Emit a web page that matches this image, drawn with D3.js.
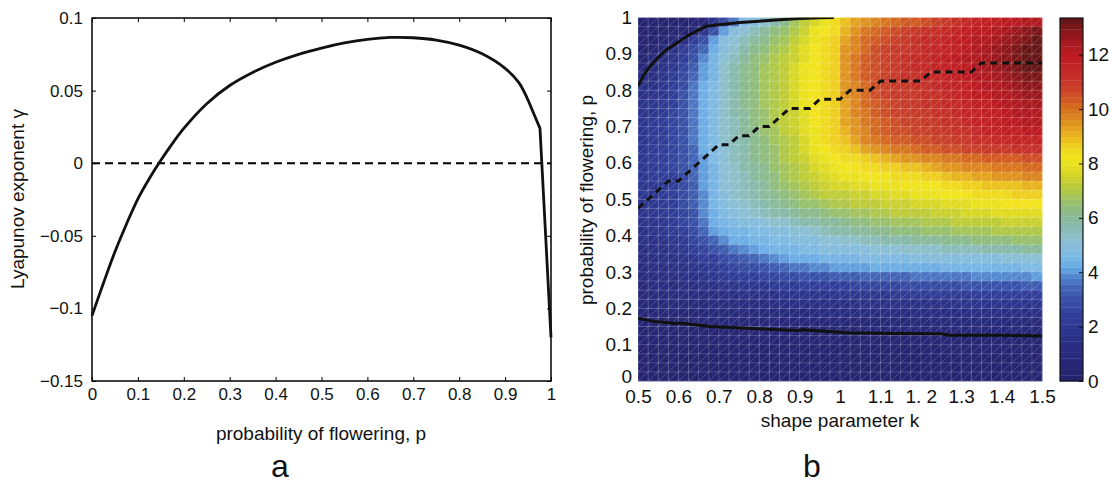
<!DOCTYPE html>
<html><head><meta charset="utf-8">
<script src="https://cdn.jsdelivr.net/npm/d3@7"></script>
<style>
body{margin:0;background:#fff}
svg{display:block}
text{font-family:"Liberation Sans",Arial,Helvetica,sans-serif;fill:#111}
</style></head>
<body><svg id="c" width="1110" height="483"></svg>
<script>
// ---------- Panel a data ----------
const pA = [0,0.025,0.05,0.075,0.1,0.125,0.15,0.175,0.2,0.25,0.3,0.35,0.4,0.45,0.5,0.55,0.6,0.65,0.7,0.75,0.8,0.85,0.9,0.93,0.952,0.976,1.0];
const gammaA = [-0.105,-0.0825,-0.061,-0.042,-0.0245,-0.0105,0.002,0.0135,0.024,0.041,0.0535,0.0625,0.0695,0.075,0.0793,0.0828,0.0853,0.0866,0.0864,0.0848,0.0813,0.0753,0.0653,0.0555,0.042,0.024,-0.12];
const xTicksA = [0,0.1,0.2,0.3,0.4,0.5,0.6,0.7,0.8,0.9,1];
const xTickLabelsA = ["0","0.1","0.2","0.3","0.4","0.5","0.6","0.7","0.8","0.9","1"];
const yTicksA = [-0.15,-0.1,-0.05,0,0.05,0.1];
const yTickLabelsA = ["\u22120.15","\u22120.1","\u22120.05","0","0.05","0.1"];

// ---------- Panel b data ----------
const kEdges = [0.5,0.525,0.55,0.575,0.6,0.625,0.65,0.675,0.7,0.725,0.75,0.775,0.8,0.825,0.85,0.875,0.9,0.925,0.95,0.975,1.0,1.025,1.05,1.075,1.1,1.125,1.15,1.175,1.2,1.225,1.25,1.275,1.3,1.325,1.35,1.375,1.4,1.425,1.45,1.475];
const pEdges = [0.975,0.95,0.925,0.9,0.875,0.85,0.825,0.8,0.775,0.75,0.725,0.7,0.675,0.65,0.625,0.6,0.575,0.55,0.525,0.5,0.475,0.45,0.425,0.4,0.375,0.35,0.325,0.3,0.275,0.25,0.225,0.2,0.175,0.15,0.125,0.1,0.075,0.05,0.025,0];
const heatRows = [
[0.4,0.4,0.4,0.4,0.4,0.5,0.6,1.6,2.8,3.7,4.6,5.0,5.4,5.8,6.2,6.7,7.2,7.7,8.1,8.4,8.8,9.2,9.5,9.8,10.0,10.2,10.3,10.4,10.6,10.8,10.9,11.1,11.3,11.5,11.7,11.8,11.9,12.0,12.1,12.2],
[0.4,0.4,0.4,0.5,0.6,0.9,1.8,3.0,4.1,4.8,5.2,5.6,6.0,6.3,6.6,7.0,7.5,8.0,8.3,8.5,9.1,9.5,9.9,10.2,10.4,10.6,10.7,10.9,11.1,11.2,11.4,11.5,11.7,11.9,12.0,12.2,12.5,12.7,12.9,13.0],
[0.4,0.4,0.5,0.8,1.5,2.3,3.1,4.0,4.8,5.2,5.6,5.9,6.2,6.5,6.8,7.2,7.7,8.1,8.4,8.6,9.3,9.7,10.1,10.4,10.6,10.8,10.9,11.1,11.3,11.4,11.6,11.7,11.9,12.1,12.2,12.4,12.7,12.9,13.1,13.2],
[0.4,0.5,0.9,1.5,2.2,2.8,3.5,4.3,5.0,5.4,5.8,6.1,6.4,6.7,7.0,7.4,7.8,8.2,8.5,8.7,9.4,9.8,10.2,10.5,10.7,10.9,11.0,11.2,11.4,11.5,11.6,11.8,12.0,12.2,12.4,12.6,12.9,13.1,13.2,13.3],
[0.5,0.9,1.4,1.8,2.5,3.1,3.9,4.4,5.2,5.6,6.0,6.3,6.6,6.9,7.2,7.5,7.9,8.2,8.5,8.7,9.5,9.9,10.3,10.6,10.8,11.0,11.1,11.3,11.4,11.5,11.7,11.9,12.1,12.3,12.4,12.6,12.9,13.1,13.3,13.3],
[0.8,1.2,1.6,2.0,2.7,3.3,4.0,4.5,5.3,5.7,6.1,6.4,6.7,7.0,7.3,7.6,8.0,8.2,8.5,8.7,9.5,9.9,10.3,10.6,10.8,11.0,11.1,11.3,11.4,11.5,11.7,11.8,12.0,12.2,12.4,12.6,12.8,13.0,13.2,13.3],
[1.1,1.4,1.8,2.2,2.8,3.4,4.1,4.5,5.3,5.7,6.1,6.4,6.7,7.0,7.3,7.6,8.0,8.2,8.5,8.7,9.5,9.9,10.3,10.6,10.8,11.0,11.1,11.2,11.3,11.4,11.6,11.7,11.9,12.1,12.2,12.4,12.6,12.8,13.0,13.1],
[1.3,1.6,1.9,2.3,2.9,3.6,4.2,4.6,5.3,5.7,6.1,6.4,6.7,7.0,7.3,7.6,8.0,8.2,8.5,8.7,9.4,9.8,10.2,10.5,10.7,10.9,11.0,11.1,11.2,11.3,11.5,11.6,11.8,12.0,12.1,12.2,12.4,12.6,12.8,12.9],
[1.5,1.7,2.0,2.4,3.0,3.7,4.2,4.6,5.3,5.7,6.1,6.4,6.7,7.0,7.3,7.6,8.0,8.2,8.5,8.7,9.4,9.8,10.2,10.5,10.7,10.9,11.0,11.0,11.1,11.2,11.4,11.5,11.7,11.9,12.0,12.1,12.2,12.4,12.6,12.7],
[1.7,1.9,2.1,2.5,3.1,3.7,4.2,4.6,5.3,5.7,6.1,6.4,6.7,7.0,7.3,7.6,8.0,8.2,8.5,8.7,9.3,9.7,10.1,10.4,10.6,10.8,10.9,11.0,11.1,11.2,11.3,11.4,11.6,11.7,11.8,11.9,12.1,12.2,12.4,12.5],
[1.8,2.0,2.2,2.6,3.1,3.7,4.2,4.6,5.3,5.7,6.0,6.3,6.6,6.9,7.2,7.5,7.9,8.2,8.5,8.7,9.3,9.6,10.0,10.3,10.5,10.7,10.8,10.9,11.0,11.1,11.2,11.3,11.5,11.6,11.7,11.8,12.0,12.1,12.2,12.3],
[1.9,2.1,2.3,2.6,3.1,3.7,4.2,4.6,5.3,5.6,5.9,6.3,6.6,6.9,7.2,7.5,7.9,8.2,8.5,8.7,9.2,9.5,9.9,10.2,10.4,10.6,10.7,10.8,10.9,11.0,11.1,11.2,11.3,11.5,11.6,11.7,11.9,12.0,12.1,12.1],
[2.0,2.1,2.3,2.6,3.1,3.6,4.2,4.6,5.3,5.6,5.9,6.2,6.5,6.8,7.1,7.4,7.8,8.1,8.4,8.6,9.1,9.4,9.8,10.1,10.3,10.5,10.6,10.7,10.8,10.9,11.0,11.1,11.2,11.4,11.5,11.6,11.7,11.8,11.9,11.9],
[2.0,2.1,2.3,2.6,3.0,3.6,4.2,4.6,5.3,5.6,5.8,6.2,6.4,6.7,7.0,7.3,7.7,8.1,8.4,8.6,8.9,9.2,9.6,9.9,10.1,10.3,10.4,10.5,10.6,10.7,10.8,10.9,11.0,11.1,11.2,11.3,11.4,11.5,11.6,11.6],
[2.0,2.1,2.3,2.6,3.0,3.5,4.2,4.6,5.2,5.5,5.8,6.1,6.4,6.6,6.9,7.2,7.6,8.0,8.3,8.5,8.7,8.9,9.2,9.5,9.7,9.9,10.0,10.1,10.3,10.4,10.5,10.6,10.7,10.8,10.9,11.0,11.0,11.1,11.1,11.1],
[2.0,2.1,2.3,2.6,3.0,3.5,4.1,4.6,5.2,5.5,5.7,6.1,6.3,6.6,6.9,7.1,7.4,7.8,8.1,8.3,8.4,8.5,8.6,8.8,9.0,9.2,9.4,9.5,9.7,9.8,9.9,10.0,10.1,10.2,10.3,10.3,10.4,10.4,10.5,10.5],
[2.0,2.1,2.3,2.6,3.0,3.4,4.1,4.5,5.1,5.4,5.7,6.0,6.2,6.5,6.8,7.0,7.3,7.6,7.9,8.1,8.2,8.3,8.4,8.5,8.6,8.7,8.8,8.9,9.1,9.2,9.4,9.5,9.6,9.7,9.8,9.9,10.0,10.0,10.1,10.1],
[2.0,2.1,2.3,2.5,2.9,3.4,4.0,4.5,5.1,5.4,5.6,5.9,6.1,6.4,6.7,6.9,7.2,7.5,7.7,7.9,8.0,8.1,8.2,8.3,8.3,8.4,8.4,8.5,8.6,8.7,8.8,9.0,9.1,9.2,9.3,9.4,9.5,9.5,9.6,9.6],
[1.9,2.0,2.2,2.5,2.9,3.3,4.0,4.5,5.1,5.4,5.6,5.8,6.0,6.3,6.5,6.7,7.0,7.2,7.4,7.6,7.7,7.8,7.9,8.0,8.1,8.1,8.2,8.2,8.3,8.3,8.4,8.5,8.6,8.7,8.8,8.8,8.9,8.9,9.0,9.0],
[1.9,2.0,2.2,2.4,2.8,3.3,3.9,4.5,5.0,5.3,5.5,5.7,5.9,6.1,6.3,6.5,6.7,6.9,7.1,7.2,7.3,7.4,7.5,7.6,7.7,7.8,7.9,8.0,8.0,8.1,8.2,8.3,8.3,8.4,8.4,8.5,8.5,8.6,8.6,8.6],
[1.8,1.9,2.1,2.4,2.8,3.2,3.9,4.4,4.9,5.2,5.4,5.6,5.8,6.0,6.2,6.3,6.5,6.6,6.8,6.9,7.0,7.1,7.2,7.3,7.4,7.4,7.5,7.6,7.6,7.7,7.8,7.9,7.9,8.0,8.1,8.1,8.2,8.2,8.3,8.3],
[1.8,1.9,2.1,2.3,2.7,3.1,3.8,4.3,4.7,5.0,5.1,5.3,5.5,5.7,5.8,6.0,6.1,6.2,6.4,6.5,6.6,6.7,6.8,6.9,7.0,7.1,7.1,7.2,7.3,7.4,7.4,7.5,7.6,7.6,7.7,7.8,7.8,7.9,7.9,7.9],
[1.7,1.8,2.0,2.2,2.6,3.0,3.7,4.2,4.5,4.7,4.8,5.0,5.1,5.3,5.4,5.5,5.7,5.8,5.9,6.0,6.2,6.3,6.4,6.5,6.6,6.7,6.8,6.8,6.9,7.0,7.0,7.1,7.2,7.2,7.3,7.3,7.4,7.4,7.5,7.5],
[1.6,1.7,1.9,2.1,2.5,2.9,3.5,4.1,4.3,4.4,4.5,4.6,4.7,4.8,4.9,5.1,5.2,5.4,5.5,5.7,5.8,5.9,6.0,6.1,6.2,6.3,6.3,6.4,6.5,6.5,6.6,6.7,6.7,6.8,6.8,6.9,6.9,7.0,7.0,7.0],
[1.5,1.6,1.7,1.9,2.2,2.6,3.1,3.5,3.9,4.2,4.3,4.4,4.5,4.6,4.7,4.8,4.9,5.0,5.1,5.2,5.3,5.4,5.5,5.6,5.7,5.8,5.8,5.9,6.0,6.0,6.1,6.2,6.2,6.3,6.3,6.4,6.4,6.5,6.5,6.5],
[1.4,1.5,1.6,1.7,2.0,2.3,2.7,3.0,3.3,3.6,3.9,4.1,4.3,4.4,4.5,4.5,4.6,4.7,4.8,4.8,4.9,5.0,5.0,5.1,5.2,5.2,5.3,5.3,5.4,5.4,5.5,5.5,5.6,5.6,5.7,5.7,5.8,5.8,5.9,5.9],
[1.3,1.4,1.5,1.6,1.8,2.0,2.3,2.5,2.8,3.0,3.2,3.4,3.6,3.8,4.0,4.2,4.3,4.3,4.4,4.4,4.5,4.5,4.6,4.6,4.7,4.7,4.7,4.8,4.8,4.8,4.9,4.9,4.9,5.0,5.0,5.0,5.1,5.1,5.1,5.2],
[1.2,1.3,1.4,1.5,1.6,1.8,2.0,2.2,2.4,2.6,2.8,2.9,3.1,3.3,3.4,3.6,3.7,3.8,3.9,4.0,4.0,4.1,4.1,4.2,4.2,4.2,4.3,4.3,4.3,4.3,4.4,4.4,4.4,4.4,4.5,4.5,4.5,4.5,4.6,4.6],
[1.1,1.2,1.3,1.4,1.5,1.6,1.8,1.9,2.1,2.2,2.3,2.5,2.6,2.7,2.8,2.9,3.0,3.1,3.1,3.2,3.3,3.3,3.4,3.4,3.5,3.5,3.5,3.6,3.6,3.6,3.7,3.7,3.7,3.8,3.8,3.8,3.9,3.9,3.9,4.0],
[1.0,1.1,1.2,1.2,1.3,1.4,1.5,1.6,1.7,1.8,1.9,2.0,2.0,2.1,2.2,2.2,2.3,2.4,2.4,2.5,2.5,2.6,2.6,2.7,2.7,2.7,2.8,2.8,2.8,2.9,2.9,2.9,3.0,3.0,3.0,3.1,3.1,3.1,3.2,3.2],
[0.9,1.0,1.0,1.1,1.1,1.2,1.2,1.3,1.4,1.4,1.5,1.5,1.6,1.6,1.7,1.7,1.8,1.8,1.8,1.9,1.9,1.9,2.0,2.0,2.0,2.1,2.1,2.1,2.1,2.2,2.2,2.2,2.2,2.3,2.3,2.3,2.3,2.4,2.4,2.4],
[0.8,0.8,0.9,0.9,1.0,1.0,1.0,1.1,1.1,1.1,1.2,1.2,1.2,1.3,1.3,1.3,1.3,1.4,1.4,1.4,1.4,1.5,1.5,1.5,1.5,1.5,1.6,1.6,1.6,1.6,1.6,1.7,1.7,1.7,1.7,1.7,1.7,1.8,1.8,1.8],
[0.7,0.7,0.7,0.8,0.8,0.8,0.8,0.9,0.9,0.9,0.9,0.9,1.0,1.0,1.0,1.0,1.0,1.0,1.1,1.1,1.1,1.1,1.1,1.1,1.1,1.2,1.2,1.2,1.2,1.2,1.2,1.2,1.2,1.3,1.3,1.3,1.3,1.3,1.3,1.3],
[0.6,0.6,0.6,0.6,0.6,0.7,0.7,0.7,0.7,0.7,0.7,0.7,0.7,0.8,0.8,0.8,0.8,0.8,0.8,0.8,0.8,0.8,0.8,0.8,0.9,0.9,0.9,0.9,0.9,0.9,0.9,0.9,0.9,0.9,0.9,0.9,1.0,1.0,1.0,1.0],
[0.5,0.5,0.5,0.5,0.5,0.5,0.6,0.6,0.6,0.6,0.6,0.6,0.6,0.6,0.6,0.6,0.6,0.6,0.6,0.6,0.6,0.6,0.7,0.7,0.7,0.7,0.7,0.7,0.7,0.7,0.7,0.7,0.7,0.7,0.7,0.7,0.7,0.7,0.7,0.7],
[0.5,0.5,0.5,0.5,0.5,0.5,0.5,0.5,0.5,0.5,0.5,0.5,0.5,0.5,0.5,0.5,0.5,0.5,0.5,0.5,0.5,0.5,0.5,0.5,0.5,0.5,0.5,0.5,0.5,0.5,0.6,0.6,0.6,0.6,0.6,0.6,0.6,0.6,0.6,0.6],
[0.4,0.4,0.4,0.4,0.4,0.4,0.4,0.4,0.4,0.4,0.4,0.4,0.4,0.4,0.4,0.4,0.4,0.4,0.4,0.4,0.4,0.4,0.4,0.4,0.4,0.4,0.4,0.4,0.4,0.4,0.5,0.5,0.5,0.5,0.5,0.5,0.5,0.5,0.5,0.5],
[0.4,0.4,0.4,0.4,0.4,0.4,0.4,0.4,0.4,0.4,0.4,0.4,0.4,0.4,0.4,0.4,0.4,0.4,0.4,0.4,0.4,0.4,0.4,0.4,0.4,0.4,0.4,0.4,0.4,0.4,0.4,0.4,0.4,0.4,0.4,0.4,0.4,0.4,0.4,0.4],
[0.35,0.35,0.35,0.35,0.35,0.35,0.35,0.35,0.35,0.35,0.35,0.35,0.35,0.35,0.35,0.35,0.35,0.35,0.35,0.35,0.35,0.35,0.35,0.35,0.35,0.35,0.35,0.35,0.35,0.35,0.35,0.35,0.35,0.35,0.35,0.35,0.35,0.35,0.35,0.35],
[0.3,0.3,0.3,0.3,0.3,0.3,0.3,0.3,0.3,0.3,0.3,0.3,0.3,0.3,0.3,0.3,0.3,0.3,0.3,0.3,0.3,0.3,0.3,0.3,0.3,0.3,0.3,0.3,0.3,0.3,0.3,0.3,0.3,0.3,0.3,0.3,0.3,0.3,0.3,0.3]
];
const upperK = [0.5,0.515,0.53,0.55,0.571,0.6,0.62,0.645,0.67,0.7,0.752,0.8,0.85,0.9,0.95,0.985];
const upperP = [0.812,0.843,0.866,0.89,0.912,0.932,0.948,0.963,0.976,0.98,0.986,0.99,0.994,0.997,0.999,1.0];
const lowerK = [0.5,0.538,0.588,0.61,0.64,0.678,0.77,0.893,0.91,1.016,1.14,1.25,1.27,1.39,1.5];
const lowerP = [0.173,0.164,0.159,0.159,0.155,0.15,0.145,0.139,0.141,0.133,0.131,0.13,0.126,0.126,0.124];
const dashK = [0.5,0.575,0.6,0.7,0.725,0.75,0.775,0.8,0.825,0.85,0.875,0.925,0.95,1.0,1.025,1.075,1.1,1.2,1.225,1.325,1.35,1.5];
const dashP = [0.475,0.55,0.55,0.65,0.65,0.675,0.675,0.7,0.7,0.725,0.75,0.75,0.775,0.775,0.8,0.8,0.825,0.825,0.85,0.85,0.875,0.875];
const kTicks = [0.5,0.6,0.7,0.8,0.9,1.0,1.1,1.2,1.3,1.4,1.5];
const kTickLabels = ["0.5","0.6","0.7","0.8","0.9","1","1.1","1. 2","1.3","1.4","1.5"];
const pTicks = [0,0.1,0.2,0.3,0.4,0.5,0.6,0.7,0.8,0.9,1];
const pTickLabels = ["0","0.1","0.2","0.3","0.4","0.5","0.6","0.7","0.8","0.9","1"];
const cbTicks = [0,2,4,6,8,10,12];
const cMax = 13.35;

// colormap (style)
const cmapStops = [0,0.8,1.6,2.4,3.0,3.5,3.9,4.2,4.7,5.2,5.7,6.2,6.7,7.2,7.7,8.2,8.7,9.2,9.7,10.2,10.7,11.3,11.9,12.5,13.0,13.35];
const cmapColors = ["#23216a","#27297a","#2b3188","#303e99","#3851a8","#4468b9","#568dd3","#69ace6","#7fbae2","#8dc0d2","#88baae","#8aba8a","#9ec261","#bdcc37","#dcd923","#f2e61c","#eecd1e","#e6a91f","#dc8520","#d3631f","#ca4329","#c42b28","#bf1c22","#a3181e","#7e1619","#5a1413"];
const cmap = d3.scaleLinear().domain(cmapStops).range(cmapColors).interpolate(d3.interpolateRgb);
const nBands = 64;
const bandColor = v => {
  const i = Math.max(0, Math.min(nBands-1, Math.floor(v / cMax * nBands)));
  return cmap((i + 0.5) * cMax / nBands);
};

const svg = d3.select("#c");

// ================= Panel a =================
const xL = d3.scaleLinear([0,1],[92,551]);
const yL = d3.scaleLinear([-0.15,0.1],[381,18]);
const gA = svg.append("g");
const fmtX = d => xTickLabelsA[xTicksA.indexOf(d)];
const fmtY = d => yTickLabelsA[yTicksA.indexOf(d)];
function styleAxis(g){ g.select(".domain").remove(); g.selectAll("line").attr("stroke","#000").attr("stroke-width",1); g.selectAll("text").attr("fill","#111").style("font-size","17px").attr("font-family",null); }
gA.append("g").attr("transform","translate(0,381)")
  .call(d3.axisBottom(xL).tickValues(xTicksA).tickSize(-4).tickPadding(7).tickFormat(fmtX)).call(styleAxis);
gA.append("g").attr("transform","translate(0,18)")
  .call(d3.axisTop(xL).tickValues(xTicksA).tickSize(-4).tickFormat("")).call(styleAxis);
gA.append("g").attr("transform","translate(92,0)")
  .call(d3.axisLeft(yL).tickValues(yTicksA).tickSize(-4).tickPadding(9).tickFormat(fmtY)).call(styleAxis);
gA.append("g").attr("transform","translate(551,0)")
  .call(d3.axisRight(yL).tickValues(yTicksA).tickSize(-4).tickFormat("")).call(styleAxis);
gA.append("rect").attr("x",92).attr("y",18).attr("width",459).attr("height",363)
  .attr("fill","none").attr("stroke","#000").attr("stroke-width",1.5);
gA.append("line").attr("x1",xL(0)).attr("x2",xL(1)).attr("y1",yL(0)).attr("y2",yL(0))
  .attr("stroke","#000").attr("stroke-width",2).attr("stroke-dasharray","8,5");
const ptsA = pA.map((p,i)=>[p,gammaA[i]]);
const nSmooth = pA.indexOf(0.952) + 1;
let pathA = d3.line().x(d=>xL(d[0])).y(d=>yL(d[1])).curve(d3.curveCatmullRom.alpha(0.5))(ptsA.slice(0,nSmooth));
ptsA.slice(nSmooth).forEach(d=>{ pathA += `L${xL(d[0])},${yL(d[1])}`; });
gA.append("path").attr("d", pathA)
  .attr("fill","none").attr("stroke","#111").attr("stroke-width",2.8).attr("stroke-linejoin","miter");
gA.append("text").attr("x",321).attr("y",440).attr("text-anchor","middle").style("font-size","19px").attr("fill","#222")
  .text("probability of flowering, p");
gA.append("text").attr("transform","translate(24,199) rotate(-90)").attr("text-anchor","middle").style("font-size","19px").attr("fill","#222")
  .text("Lyapunov exponent \u03B3");
gA.append("text").attr("x",280).attr("y",477).attr("text-anchor","middle").style("font-size","32px").text("a");

// ================= Panel b =================
const xR = d3.scaleLinear([0.5,1.5],[638,1042]);
const yR = d3.scaleLinear([0,1],[381,17.5]);
const gB = svg.append("g");
const cells = [];
heatRows.forEach((row,ri)=>row.forEach((v,ci)=>cells.push({k:kEdges[ci],p:pEdges[ri],v})));
const dk = 0.025, dp = 0.025;
gB.append("g").selectAll("rect").data(cells).join("rect")
  .attr("x",d=>xR(d.k)).attr("y",d=>yR(d.p+dp))
  .attr("width",d=>xR(d.k+dk)-xR(d.k)+0.4).attr("height",d=>yR(d.p)-yR(d.p+dp)+0.4)
  .attr("fill",d=>bandColor(d.v));
// mesh overlay (cell edges + diagonals)
let mesh = "";
kEdges.concat([1.5]).forEach(k=>{ mesh += `M${xR(k)},${yR(0)}V${yR(1)}`; });
pEdges.concat([1.0]).forEach(p=>{ mesh += `M${xR(0.5)},${yR(p)}H${xR(1.5)}`; });
cells.forEach(d=>{ mesh += `M${xR(d.k)},${yR(d.p)}L${xR(d.k+dk)},${yR(d.p+dp)}`; });
gB.append("path").attr("d",mesh).attr("fill","none").attr("stroke","rgba(255,255,255,0.32)").attr("stroke-width",0.6);

gB.append("clipPath").attr("id","hclip").append("rect")
  .attr("x",638).attr("y",17.5).attr("width",404).attr("height",363.5);
const lineR = d3.line().x(d=>xR(d[0])).y(d=>yR(d[1]));
const cg = gB.append("g").attr("clip-path","url(#hclip)");
cg.append("path").datum(upperK.map((k,i)=>[k,upperP[i]])).attr("d",lineR)
  .attr("fill","none").attr("stroke","#111").attr("stroke-width",3);
cg.append("path").datum(lowerK.map((k,i)=>[k,lowerP[i]])).attr("d",lineR)
  .attr("fill","none").attr("stroke","#111").attr("stroke-width",3);
cg.append("path").datum(dashK.map((k,i)=>[k,dashP[i]])).attr("d",lineR)
  .attr("fill","none").attr("stroke","#111").attr("stroke-width",3).attr("stroke-dasharray","7,5");

const fmtK = d => kTickLabels[kTicks.findIndex(t=>Math.abs(t-d)<1e-9)];
const fmtP = d => pTickLabels[pTicks.findIndex(t=>Math.abs(t-d)<1e-9)];
function styleAxisB(g){ g.select(".domain").remove(); g.selectAll("line").remove(); g.selectAll("text").attr("fill","#111").style("font-size","19px").attr("font-family",null); }
gB.append("g").attr("transform","translate(0,381)")
  .call(d3.axisBottom(xR).tickValues(kTicks).tickSize(0).tickPadding(9).tickFormat(fmtK)).call(styleAxisB);
gB.append("g").attr("transform","translate(638,0)")
  .call(d3.axisLeft(yR).tickValues(pTicks).tickSize(0).tickPadding(6).tickFormat(fmtP)).call(styleAxisB)
  .call(g=>g.selectAll("text").filter(d=>d===0).attr("dy","0.1em"));
gB.append("text").attr("x",840).attr("y",427).attr("text-anchor","middle").style("font-size","19px").attr("fill","#222")
  .text("shape parameter k");
gB.append("text").attr("transform","translate(593,200) rotate(-90)").attr("text-anchor","middle").style("font-size","19px").attr("fill","#222")
  .text("probability of flowering, p");
gB.append("text").attr("x",812).attr("y",477).attr("text-anchor","middle").style("font-size","32px").text("b");

// colorbar
const cbY = d3.scaleLinear([0,cMax],[381,18]);
const bands = d3.range(nBands);
const gC = svg.append("g");
gC.selectAll("rect.band").data(bands).join("rect").attr("class","band")
  .attr("x",1060).attr("width",23)
  .attr("y",i=>cbY((i+1)*cMax/nBands)).attr("height",i=>cbY(i*cMax/nBands)-cbY((i+1)*cMax/nBands)+0.3)
  .attr("fill",i=>cmap((i+0.5)*cMax/nBands));
gC.append("rect").attr("x",1060).attr("y",18).attr("width",23).attr("height",363)
  .attr("fill","none").attr("stroke","#111").attr("stroke-width",1.2);
gC.append("g").attr("transform","translate(1083,0)")
  .call(d3.axisRight(cbY).tickValues(cbTicks).tickSize(-4).tickPadding(5))
  .call(g=>{ g.select(".domain").remove(); g.selectAll("line").attr("stroke","#111"); g.selectAll("text").attr("fill","#111").style("font-size","19px").attr("font-family",null); });
</script></body></html>
